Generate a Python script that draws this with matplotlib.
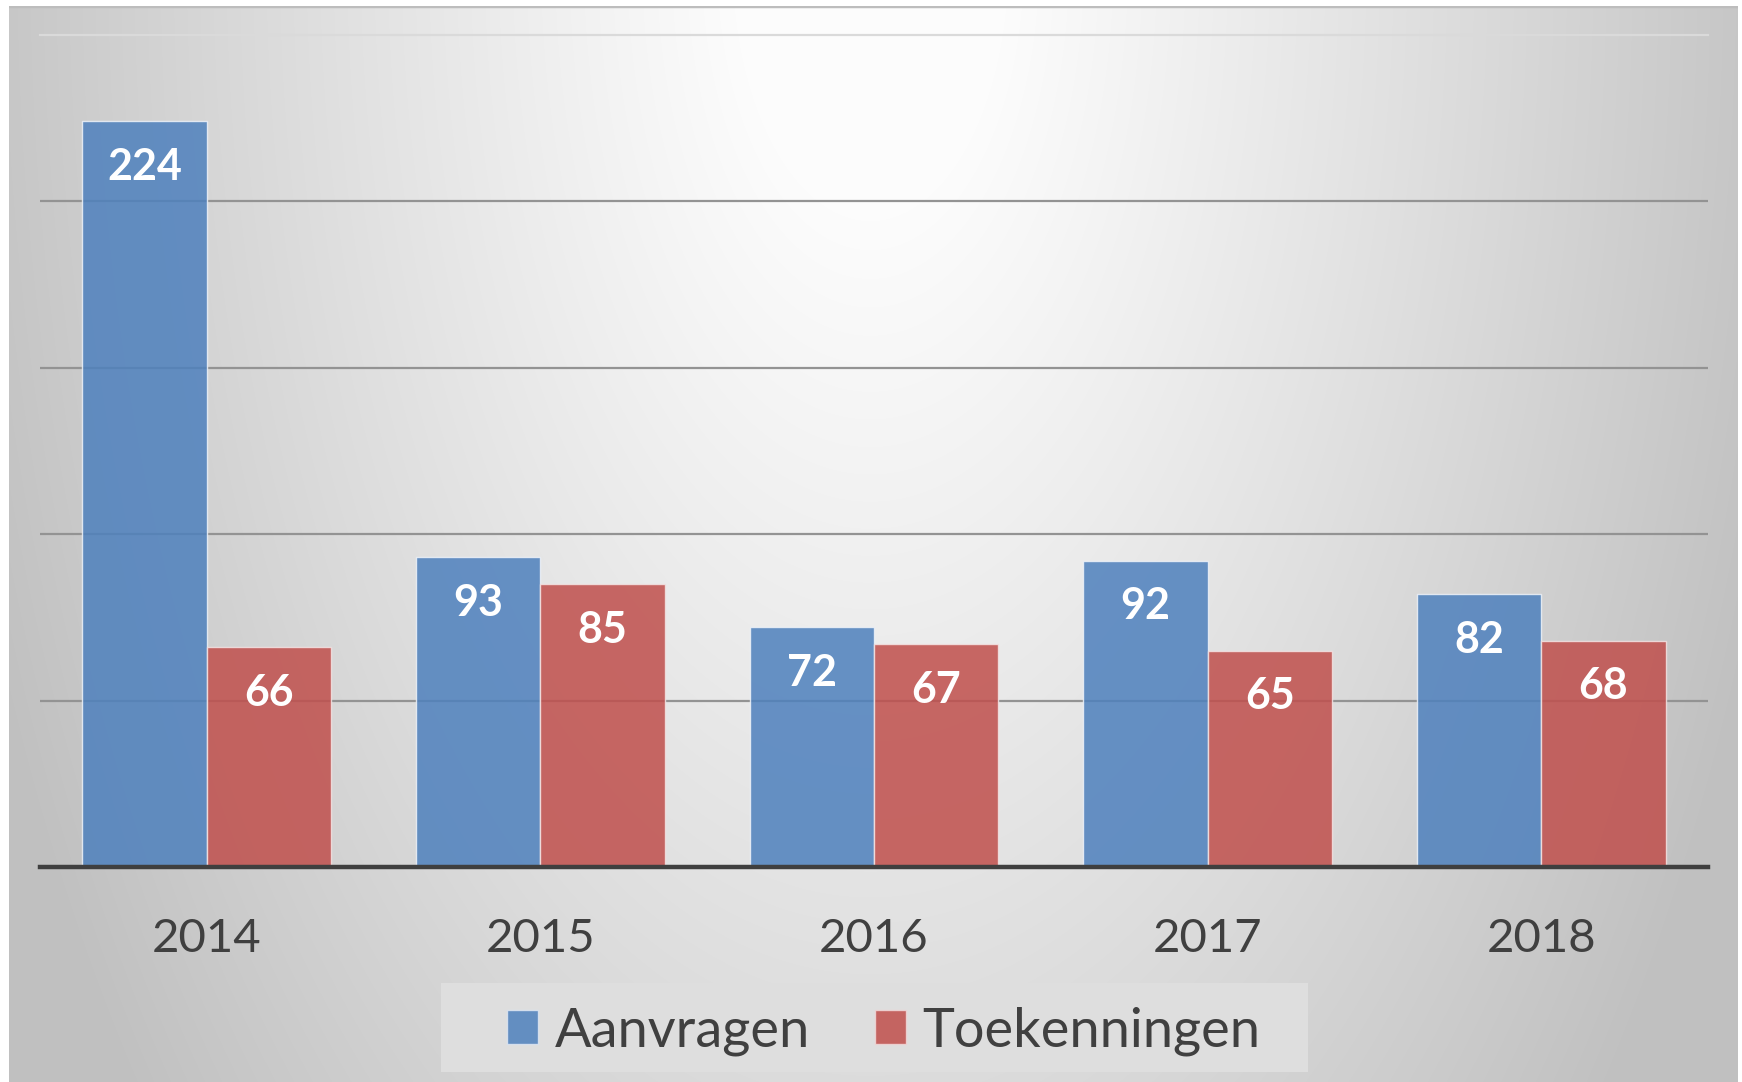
import numpy as np
import matplotlib
matplotlib.use("Agg")
import matplotlib.pyplot as plt
from matplotlib.patches import Rectangle, Patch

years = ["2014", "2015", "2016", "2017", "2018"]
aanvragen = [224, 93, 72, 92, 82]
toekenningen = [66, 85, 67, 65, 68]
series_names = ["Aanvragen", "Toekenningen"]

W, H = 1742, 1082
DPI = 100
plt.rcParams['font.family'] = ['Lato', 'DejaVu Sans']

fig = plt.figure(figsize=(W / DPI, H / DPI), dpi=DPI)
fig.patch.set_facecolor('white')

# background gradient (chart area)
gx0, gx1, gy0 = 9, 1738, 6
bg = fig.add_axes([gx0 / W, 0, (gx1 - gx0) / W, (H - gy0) / H])
xs = np.arange(gx0, gx1)
ys = np.arange(gy0, H)
X, Y = np.meshgrid(xs, ys)
r = np.sqrt(((X - 870) / 900.0) ** 2 + ((Y + 40) / 1700.0) ** 2)
c = np.clip(1.02 - 0.25 * r ** 1.1, 0.755, 0.99)
img = np.dstack([c, c, c])
bg.imshow(img, aspect='auto', extent=[0, 1, 0, 1], origin='upper', interpolation='bilinear')
bg.set_xlim(0, 1)
bg.set_ylim(0, 1)
bg.axis('off')
bg.axhline(1.0, color='#BDBDBD', lw=2.5)

# main axes
left, right = 40 / W, 1708 / W
bottom, top = 1 - 867 / H, 1 - 34.5 / H
ax = fig.add_axes([left, bottom, right - left, top - bottom])
ax.patch.set_alpha(0)

x = np.arange(len(years))
w = 0.373
blue = '#4F81BD'
red = '#C0504D'
b1 = ax.bar(x - w / 2, aanvragen, w, color=blue, alpha=0.86, edgecolor='#EEF2F8', linewidth=1.0, zorder=3)
b2 = ax.bar(x + w / 2, toekenningen, w, color=red, alpha=0.86, edgecolor='#F3E3E3', linewidth=1.0, zorder=3)

ax.set_xlim(-0.5, len(years) - 0.5)
ax.set_ylim(0, 250)
for v in [50, 100, 150, 200]:
    ax.axhline(v, color='#939393', lw=1.6, zorder=1)
ax.axhline(250, color='#DADADA', lw=1.6, zorder=1, clip_on=False)
ax.axhline(0, color='#3F3F3F', lw=3.2, zorder=4, clip_on=False)

for s in ax.spines.values():
    s.set_visible(False)
ax.set_yticks([])
ax.set_xticks(x)
ax.set_xticklabels(years, fontsize=34, color='#404040')
ax.tick_params(axis='x', length=0, pad=37)

for bars, vals in [(b1, aanvragen), (b2, toekenningen)]:
    for rect, v in zip(bars, vals):
        ax.annotate(str(v), (rect.get_x() + rect.get_width() / 2, v),
                    xytext=(0, -33), textcoords='offset points',
                    ha='center', va='center', fontsize=31, fontweight='bold',
                    color='white', zorder=5)

# legend box
fig.patches.append(Rectangle((441 / W, 1 - 1072 / H), (1308 - 441) / W, (1072 - 983) / H,
                             transform=fig.transFigure, facecolor='#DEDEDE',
                             edgecolor='none', zorder=1))
handles = [Patch(facecolor=blue, alpha=0.86, edgecolor='#DDE6F2'),
           Patch(facecolor=red, alpha=0.86, edgecolor='#F0D8D8')]
leg = fig.legend(handles, series_names, loc='center', bbox_to_anchor=(0.5072, 1 - 1031 / H),
                 ncol=2, frameon=False, fontsize=39, handlelength=0.58, handleheight=0.58,
                 handletextpad=0.3, columnspacing=1.2, labelcolor='#404040')

fig.savefig('out.png', dpi=DPI, facecolor=fig.get_facecolor())
